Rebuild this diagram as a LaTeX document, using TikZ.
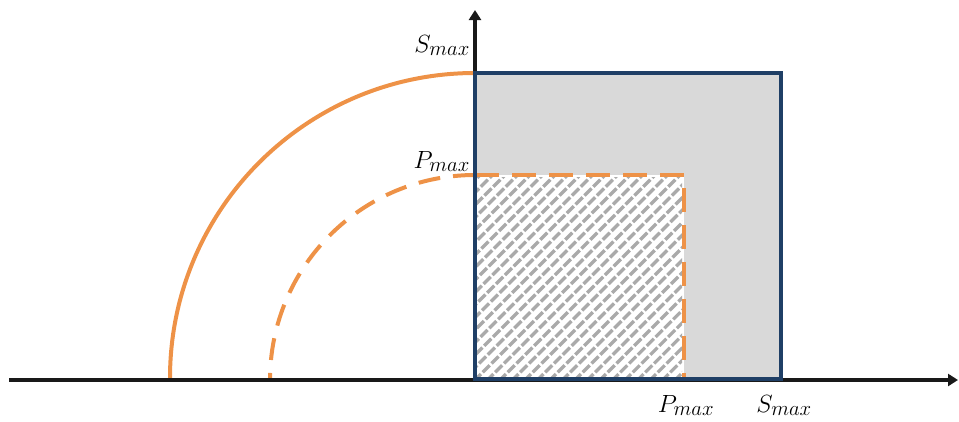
\documentclass[tikz,border=0pt]{standalone}
\usetikzlibrary{arrows.meta}
\definecolor{orng}{HTML}{EE9247}
\definecolor{navy}{HTML}{1F3F66}
\definecolor{lgray}{HTML}{D9D9D9}
\definecolor{hgray}{HTML}{AAAAAA}
\begin{document}
\begin{tikzpicture}[x=1pt,y=-1pt,
  axis/.style={line width=3.8pt,black!90,-{Triangle[length=10pt,width=12pt]}},
  lbl/.style={font=\fontsize{31}{36}\selectfont,inner sep=0pt},
  arcsolid/.style={orng,line width=4pt},
  arcdash/.style={orng,line width=4pt,dash pattern=on 22pt off 13pt},
  hatch/.style={hgray,line width=3.2pt,dash pattern=on 10pt off 2.5pt}]
\useasboundingbox (0,0) rectangle (959,421);
% big square fill
\fill[lgray] (475,73) rectangle (781,379);
% hatched square
\fill[white] (475,175) rectangle (684,379);
\begin{scope}
\clip (477,177) rectangle (682,377);
\foreach \k in {0,...,40} {
  \draw[hatch] ({240+\k*12.5},390) -- ({240+\k*12.5+240},150);
}
\end{scope}
% dashed P border
\coordinate (ptop) at (475,175);
\coordinate (pcorner) at (684,175);
\coordinate (pbot) at (684,379);
\draw[arcdash,dash pattern=on 24pt off 13pt] (ptop) -- (pcorner) -- (pbot);
% arcs
\coordinate (stop) at (475,73);
\draw[arcsolid] (stop) arc[start angle=-90,end angle=-180,radius=305];
\draw[arcdash] (ptop) arc[start angle=-90,end angle=-180,radius=205];
% axes
\coordinate (o) at (475,380);
\coordinate (xl) at (9,380);
\coordinate (xr) at (958,380);
\coordinate (yt) at (475,10);
\draw[axis] (xl) -- (xr);
\draw[axis] (o) -- (yt);
% blue square
\draw[navy,line width=4.8pt] (475,73) rectangle (781,379);
% labels
\node[lbl,anchor=base east] (s1) at (470,52) {$S_{max}$};
\node[lbl,anchor=base east] (p1) at (470,168) {$P_{max}$};
\node[lbl,anchor=base] (p2) at (686,412) {$P_{max}$};
\node[lbl,anchor=base] (s2) at (784,412) {$S_{max}$};
\end{tikzpicture}
\end{document}
